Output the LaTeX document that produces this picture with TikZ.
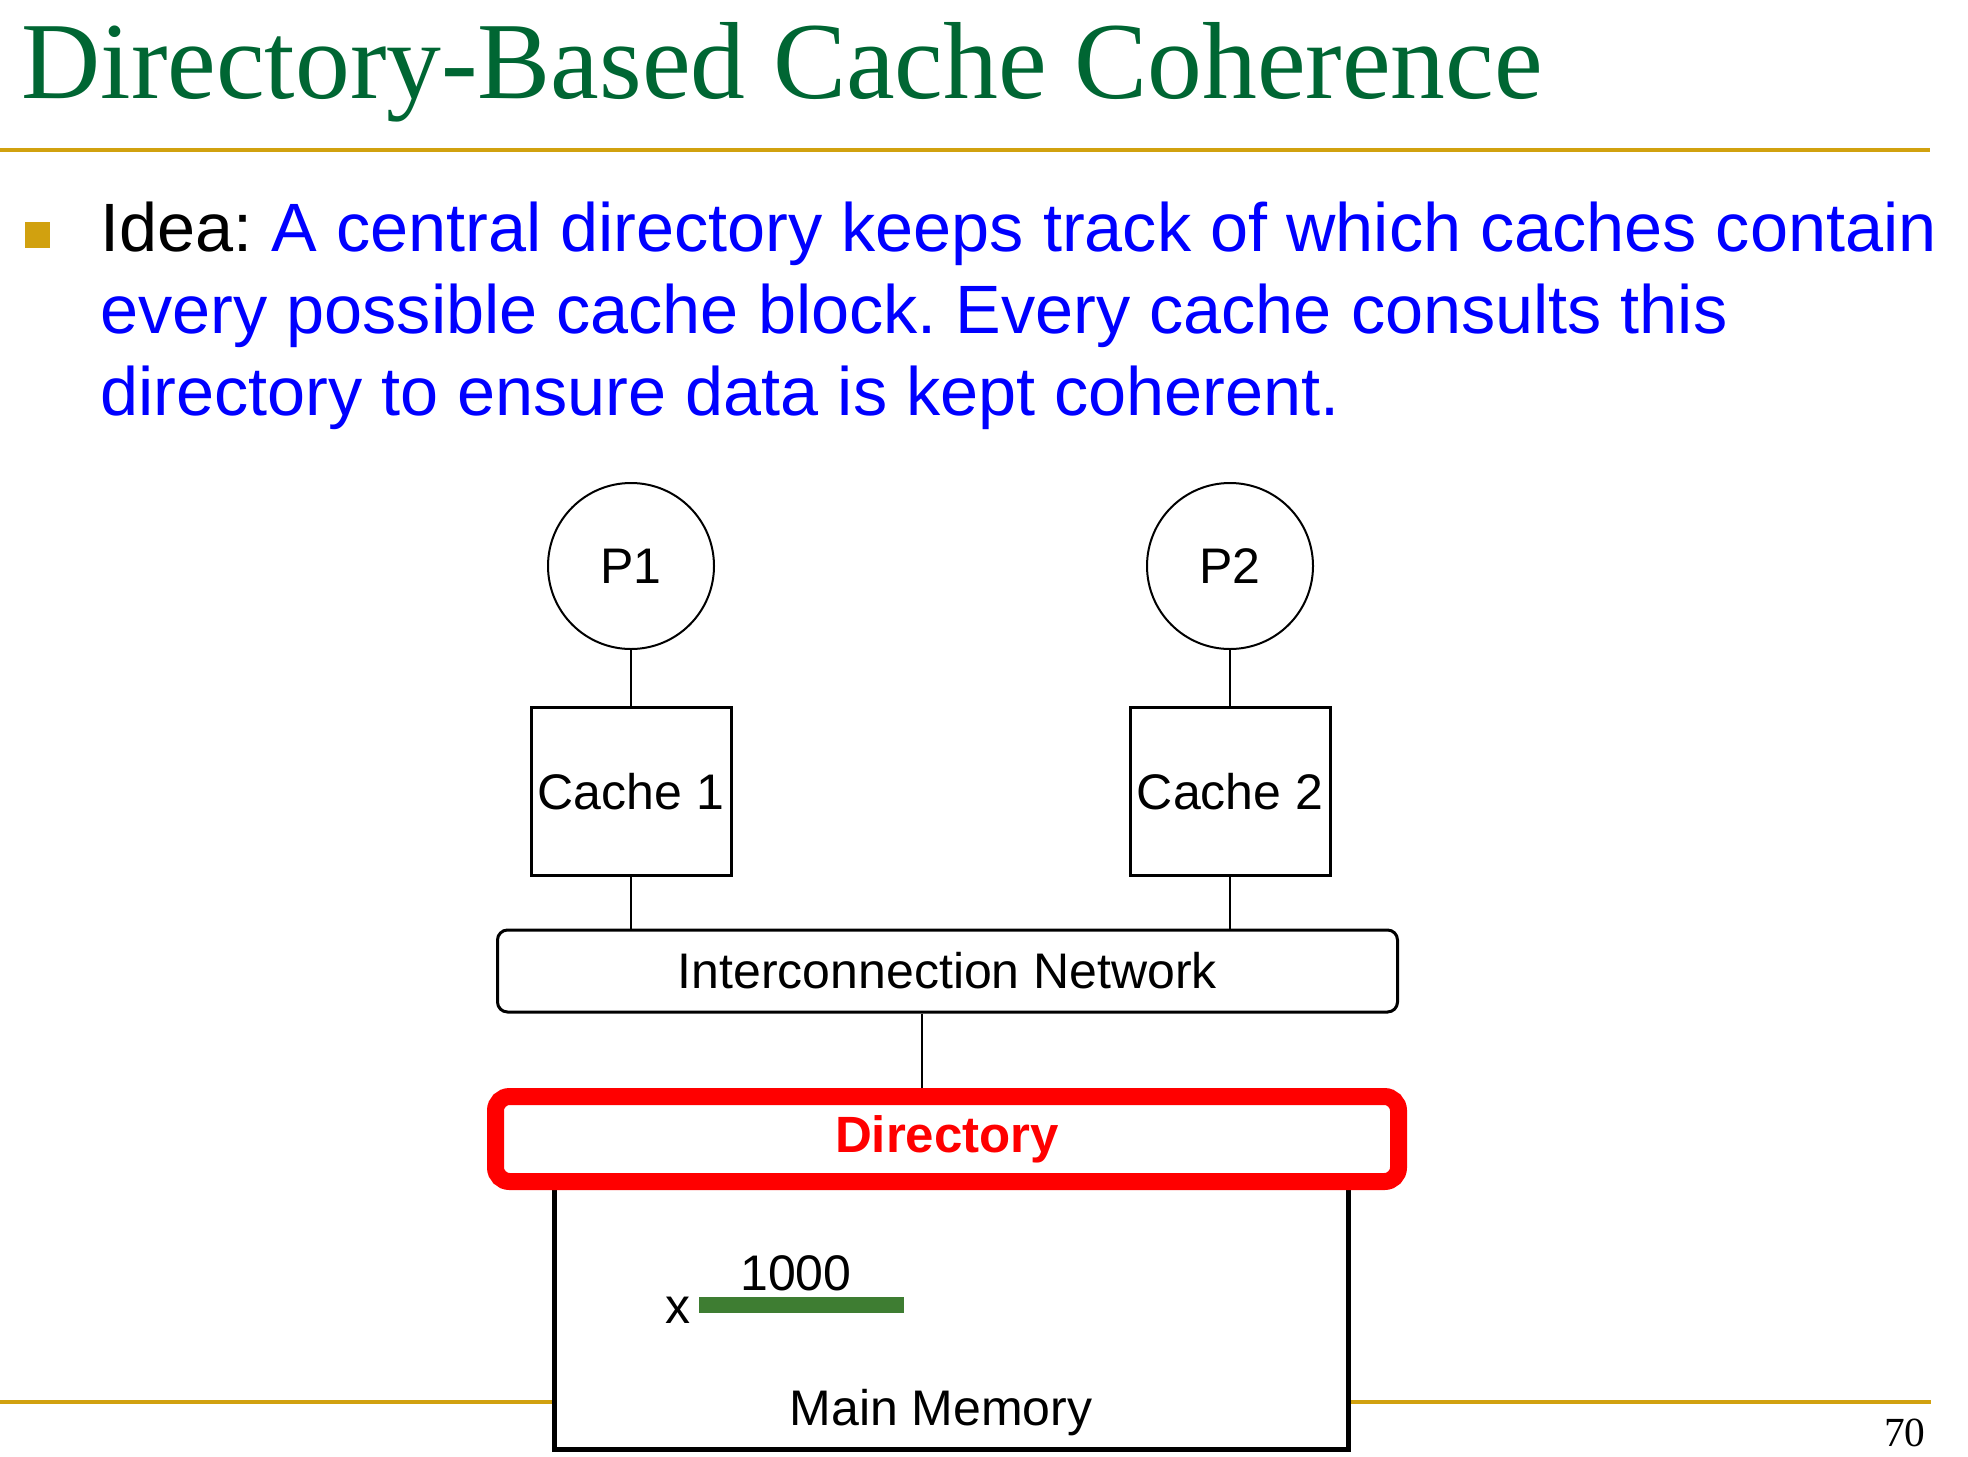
\documentclass[tikz,border=0pt]{standalone}
\usepackage{fontspec}
\setmainfont{Liberation Serif}
\setsansfont{Liberation Sans}
\usepackage{tikz}
\usetikzlibrary{positioning}
\definecolor{TitleGreen}{HTML}{006633}
\definecolor{RuleGold}{HTML}{D1A10F}
\definecolor{IdeaBlue}{HTML}{0000FF}
\definecolor{BitGreen}{HTML}{3E7D32}
\newcommand{\diagfont}{\sffamily\fontsize{25}{30}\selectfont}
\frenchspacing

\begin{document}
\begin{tikzpicture}[
  x=0.5pt,y=-0.5pt,
  proc/.style={draw,circle,line width=1pt,minimum size=83pt,inner sep=0pt,font=\diagfont},
  cachebox/.style={draw,line width=1.5pt,minimum width=100pt,minimum height=84pt,inner sep=0pt,font=\diagfont},
  netbox/.style={draw,rounded corners=5pt,line width=1.5pt,minimum width=450pt,minimum height=41pt,font=\diagfont},
  dirbox/.style={draw=red,line width=8.5pt,rounded corners=7pt,fill=white,minimum width=451.5pt,
                 minimum height=42.5pt,text=red,font=\sffamily\bfseries\fontsize{25.5}{30}\selectfont},
  membox/.style={draw,line width=2.5pt,fill=white,minimum width=397pt,minimum height=154.5pt},
  lbl/.style={inner sep=0pt,font=\diagfont},
  wire/.style={line width=1pt},
  rule/.style={RuleGold,line width=2pt},
  bodytext/.style={inner sep=0pt,anchor=base west,font=\sffamily\fontsize{34.2}{41}\selectfont}
]
\fill[white] (0,0) rectangle (1968,1456);
\useasboundingbox (0,0) rectangle (1968,1456);

% slide title and rules
\node[inner sep=0pt,anchor=base west,text=TitleGreen,font=\fontsize{54.8}{60}\selectfont] (title) at (21,98) {Directory-Based Cache Coherence};
\draw[rule] (0,150) coordinate (ruletopl) -- (1930,150) coordinate (ruletopr);
\draw[rule] (0,1402) coordinate (rulebotl) -- (1931,1402) coordinate (rulebotr);
\node[inner sep=0pt,anchor=base east,font=\fontsize{20.7}{24}\selectfont] (pageno) at (1926,1446) {70};

% bullet
\node[fill=RuleGold,minimum width=12.5pt,minimum height=13pt,inner sep=0pt] (bullet) at (37.5,235) {};
\node[bodytext] (idea1) at (100,251) {Idea: \textcolor{IdeaBlue}{A central directory keeps track of which caches contain}};
\node[bodytext,text=IdeaBlue] (idea2) at (100,333) {every possible cache block. Every cache consults this};
\node[bodytext,text=IdeaBlue] (idea3) at (100,415) {directory to ensure data is kept coherent.};

% processors and caches
\node[proc] (P1) at (631,566) {P1};
\node[proc] (P2) at (1230,566) {P2};
\node[cachebox,below=28pt of P1] (cache1) {Cache 1};
\node[cachebox,below=28pt of P2] (cache2) {Cache 2};
\node[netbox] (net) at (947.5,971) {Interconnection Network};
\coordinate (bus) at (922,1000);

\draw[wire] (P1) -- (cache1);
\draw[wire] (P2) -- (cache2);
\draw[wire] (cache1) -- (cache1 |- net.north);
\draw[wire] (cache2) -- (cache2 |- net.north);

% memory with directory
\node[membox] (mem) at (951.5,1294.5) {};
\node[dirbox] (dir) at (947,1139) {Directory};
\draw[wire] (net.south -| bus) -- (dir.north -| bus);
\node[fill=BitGreen,minimum width=102.5pt,minimum height=8pt,inner sep=0pt] (xbar) at (801.5,1305) {};
\node[lbl,anchor=base] (xval) at (796,1290) {1000};
\node[lbl,anchor=base east] (xname) at (691,1323) {x};
\node[lbl,anchor=base] (memlabel) at (941,1425) {Main Memory};
\end{tikzpicture}
\end{document}
